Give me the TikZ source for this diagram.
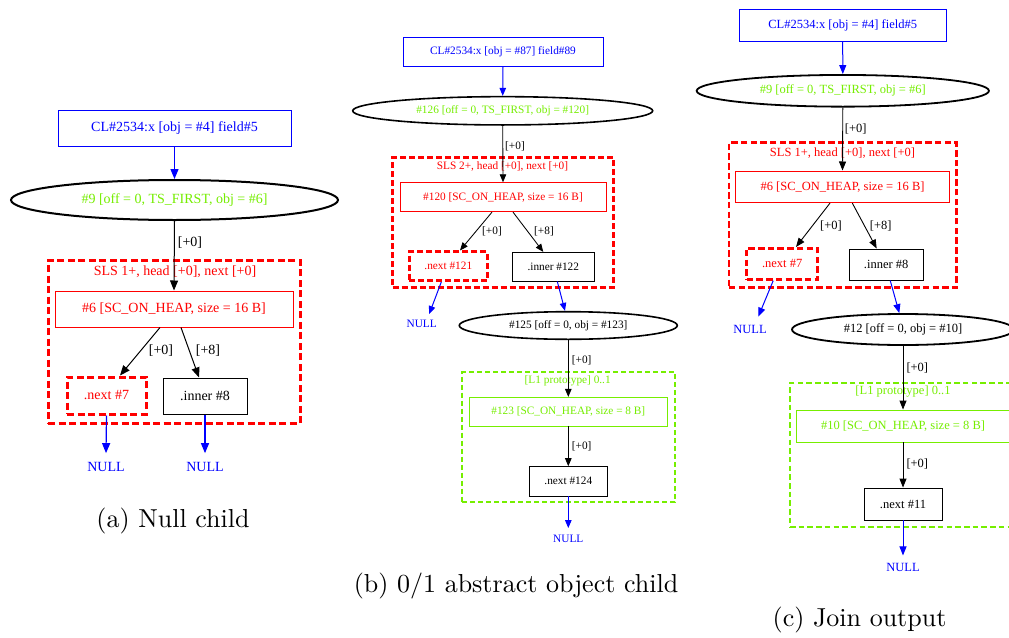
\documentclass[tikz,border=0pt]{standalone}
\usepackage{fontspec}
\newfontfamily\gvfont{Liberation Serif}
\newfontfamily\capfont[Extension=.otf]{lmroman10-regular}
\usetikzlibrary{arrows.meta,shapes.geometric,calc}

\definecolor{gvblue}{RGB}{0,0,255}
\definecolor{gvred}{RGB}{255,0,0}
\definecolor{gvgreen}{RGB}{118,238,0}

\tikzset{
  objbox/.style={draw, rectangle, inner sep=0pt},
  ptrnode/.style={draw, ellipse, inner sep=0pt},
  slsframe/.style={draw=gvred, rectangle, inner sep=0pt},
  protoframe/.style={draw=gvgreen, rectangle, inner sep=0pt},
  nullnode/.style={text=gvblue, inner sep=0pt},
  offlabel/.style={inner sep=0pt},
  caption/.style={font=\capfont\fontsize{26}{31}\selectfont},
  edge/.style={draw=black},
  ptredge/.style={draw=gvblue},
  % per-panel sizes (the three graphs are set at different scales)
  sizeA/.style={font=\gvfont\fontsize{14}{16}\selectfont,
    objbox/.append style={line width=1pt},
    ptrnode/.append style={line width=2pt},
    slsframe/.append style={line width=3pt, dash pattern=on 7pt off 3.5pt},
    edge/.append style={line width=1pt, -{Triangle[length=10pt,width=8pt]}},
    ptredge/.append style={line width=1.2pt, -{Triangle[length=10pt,width=8pt]}}},
  sizeB/.style={font=\gvfont\fontsize{11.3}{13}\selectfont,
    objbox/.append style={line width=0.85pt},
    ptrnode/.append style={line width=1.6pt},
    slsframe/.append style={line width=2.5pt, dash pattern=on 6pt off 3pt},
    protoframe/.append style={line width=2.2pt, dash pattern=on 5pt off 3pt},
    edge/.append style={line width=0.85pt, -{Triangle[length=8pt,width=6.5pt]}},
    ptredge/.append style={line width=1pt, -{Triangle[length=8pt,width=6.5pt]}}},
  sizeC/.style={font=\gvfont\fontsize{12.5}{14}\selectfont,
    objbox/.append style={line width=0.9pt},
    ptrnode/.append style={line width=1.8pt},
    slsframe/.append style={line width=2.7pt, dash pattern=on 6.5pt off 3.2pt},
    protoframe/.append style={line width=2.4pt, dash pattern=on 5.5pt off 3.2pt},
    edge/.append style={line width=0.9pt, -{Triangle[length=9pt,width=7pt]}},
    ptredge/.append style={line width=1pt, -{Triangle[length=9pt,width=7pt]}}},
}

\begin{document}
\begin{tikzpicture}[x=1pt,y=-1pt]
\useasboundingbox (0,0) rectangle (1009,637);
\fill[white] (0,0) rectangle (1009,637);
\clip (0,0) rectangle (1009,637);

% ---------------- (a) Null child ----------------
\begin{scope}[sizeA]
  \node[objbox, draw=gvblue, text=gvblue, minimum width=233, minimum height=36] (a-cl) at (174.5,128) {CL\#2534:x [obj = \#4] field\#5};
  \node[ptrnode, text=gvgreen, minimum width=327, minimum height=40] (a-ptr) at (174.5,200) {\#9 [off = 0, TS\_FIRST, obj = \#6]};
  \node[slsframe, minimum width=252, minimum height=163] (a-sls) at (174,341.5) {};
  \node[text=gvred, inner sep=0pt] (a-slslbl) at (175,272) {SLS 1+, head [+0], next [+0]};
  \node[objbox, draw=gvred, text=gvred, minimum width=238, minimum height=36] (a-heap) at (174,309) {\#6 [SC\_ON\_HEAP, size = 16 B]};
  \node[slsframe, text=gvred, minimum width=79, minimum height=37] (a-next) at (106.5,395.5) {.next \#7};
  \node[objbox, minimum width=84, minimum height=36] (a-inner) at (205,396) {.inner \#8};
  \node[nullnode] (a-null1) at (106,467) {NULL};
  \node[nullnode] (a-null2) at (205,467) {NULL};

  \draw[ptredge] (a-cl.south) -- (a-ptr.north);
  \draw[edge] (a-ptr.south) -- (a-heap.north);
  \node[offlabel] (a-l0) at (190,243) {[+0]};
  \draw[edge] ($(a-heap.south)+(-14,0)$) -- ($(a-next.north)+(13.5,0)$);
  \node[offlabel] (a-l1) at (161,351) {[+0]};
  \draw[edge] ($(a-heap.south)+(7,0)$) -- ($(a-inner.north)+(-6,0)$);
  \node[offlabel] (a-l2) at (208,351) {[+8]};
  \draw[ptredge] (a-next.south) -- ($(a-null1.north)+(0,-9)$);
  \draw[ptredge] (a-inner.south) -- ($(a-null2.north)+(0,-9)$);
\end{scope}
\node[caption] (a-cap) at (173,521) {(a) Null child};

% ---------------- (b) 0/1 abstract object child ----------------
\begin{scope}[sizeB]
  \node[objbox, draw=gvblue, text=gvblue, minimum width=200, minimum height=29] (b-cl) at (503,51.5) {CL\#2534:x [obj = \#87] field\#89};
  \node[ptrnode, text=gvgreen, minimum width=300, minimum height=28.3] (b-ptr) at (502.7,110.8) {\#126 [off = 0, TS\_FIRST, obj = \#120]};
  \node[slsframe, minimum width=220.6, minimum height=130] (b-sls) at (503,222.3) {};
  \node[text=gvred, inner sep=0pt] (b-slslbl) at (502.5,166.7) {SLS 2+, head [+0], next [+0]};
  \node[objbox, draw=gvred, text=gvred, minimum width=206, minimum height=29] (b-heap) at (503,197.2) {\#120 [SC\_ON\_HEAP, size = 16 B]};
  \node[slsframe, text=gvred, minimum width=78, minimum height=29] (b-next) at (448.3,266.2) {.next \#121};
  \node[objbox, minimum width=82, minimum height=28.7] (b-inner) at (553.3,266.7) {.inner \#122};
  \node[nullnode] (b-null1) at (421.7,324) {NULL};
  \node[ptrnode, minimum width=218, minimum height=27.6] (b-ptr2) at (568.3,325.5) {\#125 [off = 0, obj = \#123]};
  \node[protoframe, minimum width=212.7, minimum height=130] (b-proto) at (568.7,437) {};
  \node[text=gvgreen, inner sep=0pt] (b-protolbl) at (567.7,381) {[L1 prototype] 0..1};
  \node[objbox, draw=gvgreen, text=gvgreen, minimum width=198, minimum height=28.7] (b-heap2) at (568.3,411.7) {\#123 [SC\_ON\_HEAP, size = 8 B]};
  \node[objbox, minimum width=77.3, minimum height=29.3] (b-next2) at (568.3,481.3) {.next \#124};
  \node[nullnode] (b-null2) at (568.3,539) {NULL};

  \draw[ptredge] (b-cl.south) -- (b-ptr.north);
  \draw[edge] (b-ptr.south) -- (b-heap.north);
  \node[offlabel] (b-l0) at (515,146) {[+0]};
  \draw[edge] ($(b-heap.south)+(-11,0)$) -- ($(b-next.north)+(11.7,0)$);
  \node[offlabel] (b-l1) at (492,231.3) {[+0]};
  \draw[edge] ($(b-heap.south)+(10,0)$) -- ($(b-inner.north)+(-10,0)$);
  \node[offlabel] (b-l2) at (544,231.3) {[+8]};
  \draw[ptredge] ($(b-next.south)+(-7,0)$) -- ($(b-null1.north)+(7.5,-6)$);
  \draw[ptredge] ($(b-inner.south)+(4,0)$) -- ($(b-ptr2.north)+(-3.3,0)$);
  \draw[edge] (b-ptr2.south) -- (b-heap2.north);
  \node[offlabel] (b-l3) at (581.7,360) {[+0]};
  \draw[edge] (b-heap2.south) -- (b-next2.north);
  \node[offlabel] (b-l4) at (581.7,446) {[+0]};
  \draw[ptredge] (b-next2.south) -- ($(b-null2.north)+(0,-7)$);
\end{scope}
\node[caption] (b-cap) at (516,586) {(b) 0/1 abstract object child};

% ---------------- (c) Join output ----------------
\begin{scope}[sizeC]
  \node[objbox, draw=gvblue, text=gvblue, minimum width=206.7, minimum height=32.4] (c-cl) at (842.7,25.5) {CL\#2534:x [obj = \#4] field\#5};
  \node[ptrnode, text=gvgreen, minimum width=292.3, minimum height=31.7] (c-ptr) at (842.8,90.8) {\#9 [off = 0, TS\_FIRST, obj = \#6]};
  \node[slsframe, minimum width=227.7, minimum height=145] (c-sls) at (842.8,215.2) {};
  \node[text=gvred, inner sep=0pt] (c-slslbl) at (842.5,153.3) {SLS 1+, head [+0], next [+0]};
  \node[objbox, draw=gvred, text=gvred, minimum width=213.6, minimum height=31.7] (c-heap) at (842.5,186.8) {\#6 [SC\_ON\_HEAP, size = 16 B]};
  \node[slsframe, text=gvred, minimum width=71, minimum height=31] (c-next) at (782.2,263.8) {.next \#7};
  \node[objbox, minimum width=74.3, minimum height=31] (c-inner) at (886.2,264.5) {.inner \#8};
  \node[nullnode] (c-null1) at (750,329) {NULL};
  \node[ptrnode, minimum width=222, minimum height=31] (c-ptr2) at (903,329.5) {\#12 [off = 0, obj = \#10]};
  \node[protoframe, minimum width=226, minimum height=144] (c-proto) at (903,455) {};
  \node[text=gvgreen, inner sep=0pt] (c-protolbl) at (903,392) {[L1 prototype] 0..1};
  \node[objbox, draw=gvgreen, text=gvgreen, minimum width=214, minimum height=32] (c-heap2) at (903,426) {\#10 [SC\_ON\_HEAP, size = 8 B]};
  \node[objbox, minimum width=78, minimum height=32] (c-next2) at (903,504) {.next \#11};
  \node[nullnode] (c-null2) at (903,567.3) {NULL};

  \draw[ptredge] (c-cl.south) -- (c-ptr.north);
  \draw[edge] (c-ptr.south) -- (c-heap.north);
  \node[offlabel] (c-l0) at (855.7,129.3) {[+0]};
  \draw[edge] ($(c-heap.south)+(-12.5,0)$) -- ($(c-next.north)+(13.8,0)$);
  \node[offlabel] (c-l1) at (831,225.7) {[+0]};
  \draw[edge] ($(c-heap.south)+(9.8,0)$) -- ($(c-inner.north)+(-9.5,0)$);
  \node[offlabel] (c-l2) at (880.7,225.7) {[+8]};
  \draw[ptredge] ($(c-next.south)+(-9,0)$) -- ($(c-null1.north)+(8.3,-8)$);
  \draw[ptredge] ($(c-inner.south)+(4,0)$) -- ($(c-ptr2.north)+(-3.7,0)$);
  \draw[edge] (c-ptr2.south) -- (c-heap2.north);
  \node[offlabel] (c-l3) at (917.3,368.3) {[+0]};
  \draw[edge] (c-heap2.south) -- (c-next2.north);
  \node[offlabel] (c-l4) at (917.3,464) {[+0]};
  \draw[ptredge] (c-next2.south) -- ($(c-null2.north)+(0,-7.5)$);
\end{scope}
\node[caption] (c-cap) at (859.5,620) {(c) Join output};
\end{tikzpicture}
\end{document}
